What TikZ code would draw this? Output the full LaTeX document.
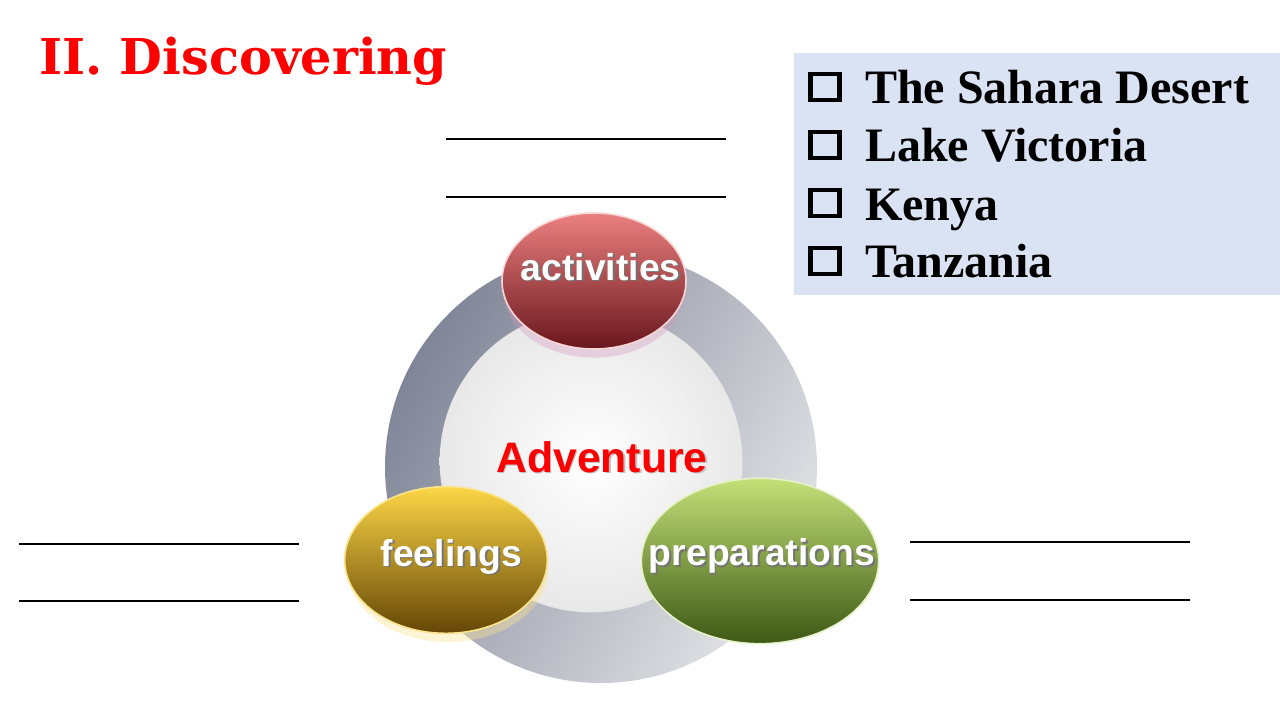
\documentclass[tikz,border=0pt]{standalone}
\usepackage{fontspec}
\setmainfont{Liberation Serif}
\setsansfont{Liberation Sans}
\newfontfamily\titlefont{DejaVu Serif}
\usetikzlibrary{shapes.geometric}

\definecolor{titlered}{RGB}{255,0,0}
\definecolor{panelblue}{RGB}{218,227,243}
\definecolor{ringdark}{RGB}{128,134,152}
\definecolor{ringmid}{RGB}{176,179,189}
\definecolor{ringlight}{RGB}{226,227,230}

\newcommand{\shtext}[1]{\makebox[0pt][l]{\hspace{1.3pt}\raisebox{-1.3pt}{\textcolor{black!55}{#1}}}#1}

\tikzset{
  bubble/.style={ellipse, inner sep=0pt, line width=1.2pt},
  bubbletext/.style={text=white, inner sep=0pt, font=\sffamily\bfseries\fontsize{28}{32}\selectfont},
  listitem/.style={anchor=base west, inner sep=0pt, font=\bfseries\fontsize{36}{40}\selectfont},
  chkbox/.style={draw, line width=3.5pt, minimum width=21.5pt, minimum height=19.5pt, inner sep=0pt},
  blank/.style={line width=0.9pt},
}

\begin{document}
\begin{tikzpicture}[x=0.75pt,y=0.75pt,yscale=-1,xscale=1]
\useasboundingbox (0,0) rectangle (1280,720);

% Title
\node (title) [anchor=base west, inner sep=0pt, text=titlered, font=\titlefont\bfseries\fontsize{37}{42}\selectfont] at (39,75) {II. Discovering};

%Shape: Rectangle [panel]
\fill [panelblue] (794,53) rectangle (1280,295);
% check boxes and places
\node (c1) [chkbox] at (825,87) {};
\node (c2) [chkbox] at (825,145) {};
\node (c3) [chkbox] at (825,203) {};
\node (c4) [chkbox] at (825,261) {};
\node (p1) [listitem] at (865,104) {The Sahara Desert};
\node (p2) [listitem] at (865,162) {Lake Victoria};
\node (p3) [listitem] at (865,220) {Kenya};
\node (p4) [listitem] at (865,277) {Tanzania};

%Straight Lines [blanks]
\draw [blank] (446,139) -- (726,139) ;
\draw [blank] (446,197) -- (726,197) ;
\draw [blank] (19,544) -- (299,544) ;
\draw [blank] (19,601) -- (299,601) ;
\draw [blank] (910,542) -- (1190,542) ;
\draw [blank] (910,600) -- (1190,600) ;

%Shape: Circle [ring]
\node (ring) [circle, inner sep=0pt, minimum size=324pt, shading=axis, left color=ringdark, right color=ringlight, middle color=ringmid, shading angle=60] at (601,467) {};
%Shape: Circle [core]
\node (core) [circle, inner sep=0pt, minimum size=227pt, inner color=white, outer color=black!9] at (591,461) {};
% Text Node
\node (adv) [text=titlered, inner sep=0pt, font=\sffamily\bfseries\fontsize{32}{36}\selectfont] at (602,458) {\makebox[0pt][l]{\hspace{1pt}\raisebox{-1pt}{\textcolor{black!25}{Adventure}}}Adventure};

%Shape: Ellipse [activities]
\node (actglow) [ellipse, inner sep=0pt, minimum width=136pt, minimum height=100pt, fill={rgb,255:red,214;green,150;blue,190}, opacity=0.35] at (594,291) {};
\node (act) [bubble, minimum width=138pt, minimum height=102pt, draw={rgb,255:red,248;green,214;blue,214}, top color={rgb,255:red,236;green,128;blue,128}, middle color={rgb,255:red,196;green,58;blue,62}, bottom color={rgb,255:red,104;green,22;blue,28}] at (594,281) {};
\node (acttext) [bubbletext] at ([xshift=5pt,yshift=-10pt]act.center) {\shtext{activities}};

%Shape: Ellipse [feelings]
\node (feelglow) [ellipse, inner sep=0pt, minimum width=150pt, minimum height=108pt, fill={rgb,255:red,250;green,226;blue,150}, opacity=0.4] at (448,570) {};
\node (feel) [bubble, minimum width=152pt, minimum height=110pt, draw={rgb,255:red,250;green,228;blue,140}, top color={rgb,255:red,252;green,214;blue,70}, middle color={rgb,255:red,214;green,156;blue,14}, bottom color={rgb,255:red,100;green,70;blue,6}] at (446,560) {};
\node (feeltext) [bubbletext] at ([xshift=4pt,yshift=-2pt]feel.center) {\shtext{feelings}};

%Shape: Ellipse [preparations]
\node (prep) [bubble, minimum width=178pt, minimum height=124pt, draw={rgb,255:red,230;green,242;blue,200}, top color={rgb,255:red,196;green,224;blue,120}, middle color={rgb,255:red,120;green,160;blue,40}, bottom color={rgb,255:red,60;green,88;blue,20}] at (760,561) {};
\node (preptext) [bubbletext] at ([xshift=1.5pt,yshift=-3pt]prep.center) {\shtext{preparations}};

\end{tikzpicture}
\end{document}
